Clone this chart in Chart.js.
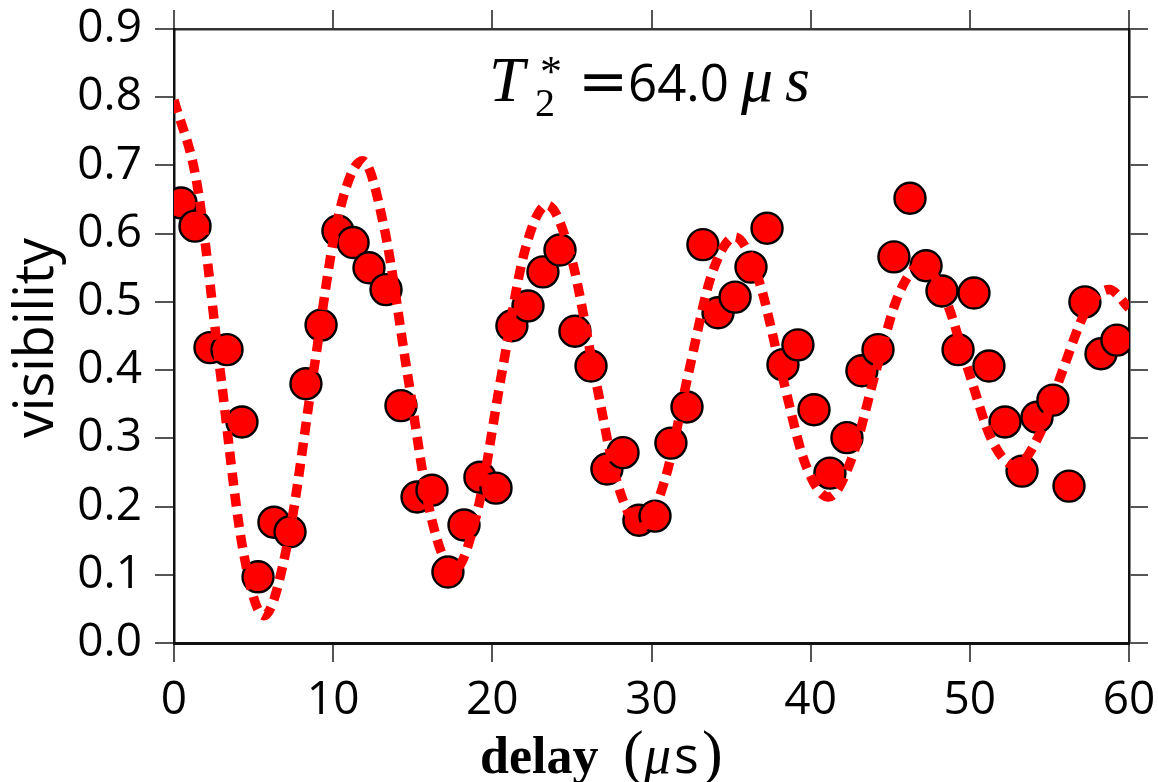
<!DOCTYPE html>
<html>
<head>
<meta charset="utf-8">
<script src="https://cdn.jsdelivr.net/npm/chart.js@4.4.1/dist/chart.umd.min.js"></script>
<style>
  html, body { margin: 0; padding: 0; background: #ffffff; }
  #wrap { width: 1158px; height: 782px; }
</style>
</head>
<body>
<div id="wrap"><canvas id="c" width="1158" height="782"></canvas></div>
<script>
// ---- data ----
const delayUs = [0.44, 1.32, 2.26, 3.33, 4.27, 5.28, 6.28, 7.29, 8.29, 9.24,
  10.30, 11.25, 12.25, 13.32, 14.26, 15.27, 16.21, 17.21, 18.22, 19.22,
  20.23, 21.23, 22.24, 23.18, 24.25, 25.19, 26.20, 27.20, 28.21, 29.21,
  30.22, 31.22, 32.23, 33.23, 34.18, 35.25, 36.25, 37.26, 38.26, 39.20,
  40.21, 41.21, 42.28, 43.22, 44.23, 45.23, 46.24, 47.25, 48.25, 49.26,
  50.26, 51.20, 52.21, 53.28, 54.22, 55.22, 56.23, 57.23, 58.24, 59.24];
const visibility = [0.645, 0.611, 0.433, 0.430, 0.324, 0.097, 0.177, 0.163, 0.380, 0.466,
  0.604, 0.587, 0.550, 0.518, 0.348, 0.214, 0.224, 0.104, 0.173, 0.243,
  0.227, 0.465, 0.494, 0.544, 0.576, 0.457, 0.406, 0.255, 0.279, 0.180,
  0.186, 0.293, 0.346, 0.584, 0.484, 0.507, 0.551, 0.608, 0.408, 0.437,
  0.342, 0.249, 0.301, 0.399, 0.430, 0.566, 0.652, 0.553, 0.516, 0.430,
  0.513, 0.406, 0.324, 0.252, 0.331, 0.356, 0.230, 0.500, 0.424, 0.444];
// fitted curve, read at roughly eighth-period spacing
const fitDelay = [0, 1.45, 2.90, 4.30, 5.65, 7.20, 8.75, 10.28, 11.85, 13.22,
  14.69, 16.16, 17.60, 19.09, 20.56, 22.03, 23.45, 24.97, 26.44, 27.91,
  29.38, 30.84, 32.31, 33.78, 35.25, 36.72, 38.19, 39.66, 41.13, 42.59,
  44.06, 45.53, 47.0, 48.47, 49.94, 51.41, 52.88, 54.34, 55.81, 57.28,
  58.75, 60];
const fitVisibility = [0.796, 0.672, 0.399, 0.141, 0.040, 0.154, 0.395, 0.621, 0.707, 0.607,
  0.391, 0.184, 0.107, 0.196, 0.391, 0.574, 0.642, 0.564, 0.392, 0.230,
  0.170, 0.239, 0.394, 0.540, 0.595, 0.533, 0.394, 0.263, 0.214, 0.271,
  0.395, 0.511, 0.554, 0.504, 0.397, 0.296, 0.260, 0.304, 0.398, 0.486,
  0.518, 0.491];
const xTickStep = 10, xMin = 0, xMax = 60;
const yTickStep = 0.1, yMin = 0, yMax = 0.9;
const yTitle = 'visibility';
const xTitleWord = 'delay';
const annotValue = '64.0';

// ---- chart ----
const ptData = delayUs.map((x, i) => ({ x, y: visibility[i] }));
const fitData = fitDelay.map((x, i) => ({ x, y: fitVisibility[i] }));

const tickFont = { family: '"Open Sans"', size: 46 };
const gridCommon = { drawOnChartArea: false, drawTicks: true, tickLength: 19, color: '#555', lineWidth: 2 };
const noPad = s => { s.paddingLeft = 0; s.paddingRight = 0; s.paddingTop = 0; s.paddingBottom = 0; };

const textPlugin = {
  id: 'textPlugin',
  afterDraw(chart) {
    const c = chart.ctx;
    c.save();
    c.fillStyle = '#000';
    c.textBaseline = 'alphabetic';
    c.textAlign = 'left';
    // T2* = 64.0 μs
    c.font = 'italic 64px "Liberation Serif"';
    c.fillText('T', 489, 101);
    c.font = '40px "Liberation Serif"';
    c.fillText('2', 535, 116);
    c.font = '44px "Liberation Serif"';
    c.fillText('*', 540, 86);
    c.font = '60px "DejaVu Serif"';
    c.fillText('=', 578, 101);
    c.font = '51px "Open Sans"';
    c.fillText(annotValue, 628, 101);
    c.font = 'italic 64px "Liberation Serif"';
    c.fillText('\u03bc', 741, 101);
    c.fillText('s', 785, 101);
    // x title
    c.font = 'bold 52px "Liberation Serif"';
    c.fillText(xTitleWord, 480, 773);
    c.font = '62px "Liberation Serif"';
    c.fillText('(', 623, 773);
    c.font = 'italic 54px "Liberation Serif"';
    c.fillText('\u03bc', 644, 773);
    c.font = '52px "Open Sans"';
    c.fillText('s', 674, 773);
    c.font = '62px "Liberation Serif"';
    c.fillText(')', 702, 773);
    // y title
    c.translate(53, 338);
    c.rotate(-Math.PI / 2);
    c.textAlign = 'center';
    c.font = '54px "Open Sans"';
    c.fillText(yTitle, 0, 0);
    c.restore();
  }
};

new Chart(document.getElementById('c'), {
  type: 'scatter',
  data: {
    datasets: [
      {
        label: 'fit',
        data: fitData,
        showLine: true,
        borderColor: '#ff0000',
        borderWidth: 9.5,
        borderDash: [13, 8],
        pointRadius: 0,
        cubicInterpolationMode: 'monotone',
        clip: 0
      },
      {
        label: 'data',
        data: ptData,
        showLine: false,
        pointRadius: 15.5,
        pointBackgroundColor: '#ff0000',
        pointBorderColor: '#000000',
        pointBorderWidth: 2.4,
        clip: 0
      }
    ]
  },
  options: {
    responsive: false,
    devicePixelRatio: 1,
    animation: false,
    events: [],
    layout: { padding: { left: 0, right: 0, top: 0, bottom: 59 } },
    plugins: { legend: { display: false }, tooltip: { enabled: false } },
    scales: {
      x: {
        type: 'linear', position: 'bottom', min: xMin, max: xMax,
        ticks: { stepSize: xTickStep, font: tickFont, color: '#000', padding: 11, maxRotation: 0 },
        grid: gridCommon,
        border: { color: '#111', width: 3 },
        afterFit: s => { s.height = 80; noPad(s); }
      },
      x2: {
        type: 'linear', position: 'top', min: xMin, max: xMax,
        ticks: { stepSize: xTickStep, display: false },
        grid: gridCommon,
        border: { color: '#333', width: 2.5 },
        afterFit: s => { s.height = 29; noPad(s); }
      },
      y: {
        type: 'linear', position: 'left', min: yMin, max: yMax,
        ticks: { stepSize: yTickStep, font: tickFont, color: '#000', padding: 13,
                 callback: v => Number(v).toFixed(1) },
        grid: gridCommon,
        border: { color: '#111', width: 2.5 },
        afterFit: s => { s.width = 174; noPad(s); }
      },
      y2: {
        type: 'linear', position: 'right', min: yMin, max: yMax,
        ticks: { stepSize: yTickStep, display: false },
        grid: gridCommon,
        border: { color: '#111', width: 2.5 },
        afterFit: s => { s.width = 29; noPad(s); }
      }
    }
  },
  plugins: [textPlugin]
});
</script>
</body>
</html>
